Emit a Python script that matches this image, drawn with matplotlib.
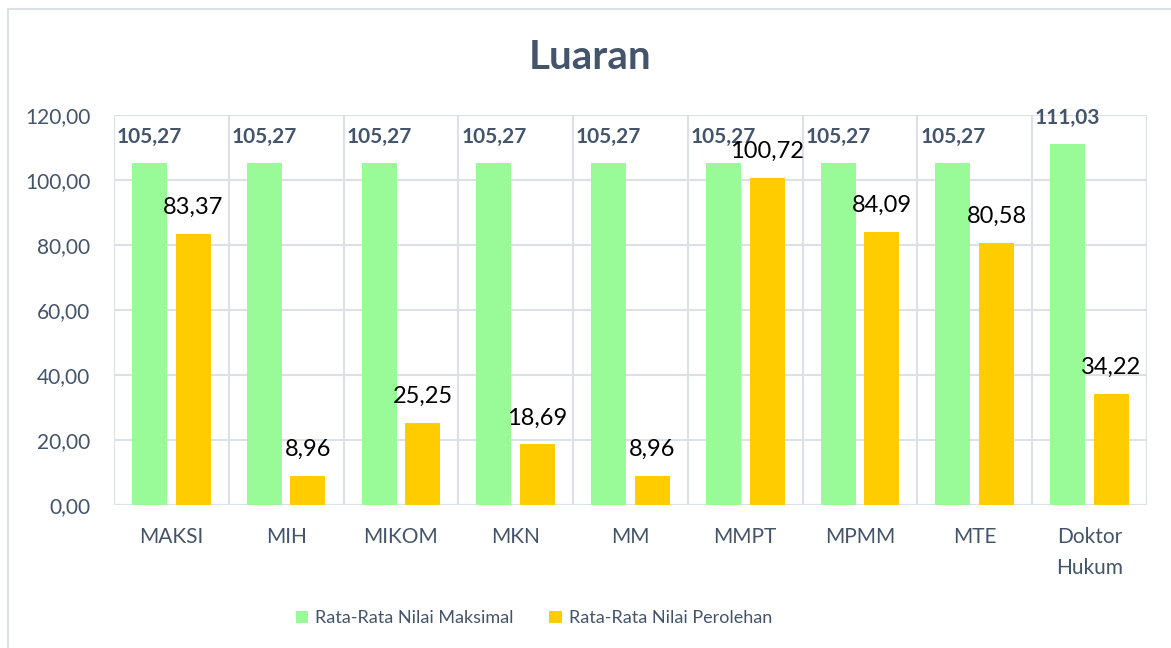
import matplotlib.pyplot as plt
import matplotlib.patches as mpatches
import numpy as np

plt.rcParams['font.family'] = ['Lato', 'DejaVu Sans']

categories = ['MAKSI', 'MIH', 'MIKOM', 'MKN', 'MM', 'MMPT', 'MPMM', 'MTE', 'Doktor\nHukum']
nilai_maksimal = [105.27, 105.27, 105.27, 105.27, 105.27, 105.27, 105.27, 105.27, 111.03]
nilai_perolehan = [83.37, 8.96, 25.25, 18.69, 8.96, 100.72, 84.09, 80.58, 34.22]
yticks = [0, 20, 40, 60, 80, 100, 120]

text_col = '#44546A'
grid_col = '#DCE1E8'
green = '#98FB98'
gold = '#FFCC00'


def fmt(v):
    return f'{v:.2f}'.replace('.', ',')


fig = plt.figure(figsize=(11.71, 6.48), dpi=100)
# thin outer frame around the chart
fig.patches.append(mpatches.Rectangle((0.0065, -0.05), 1.1, 1.036, transform=fig.transFigure,
                                      fill=False, edgecolor=grid_col, linewidth=1.5))

ax = fig.add_axes([0.0974, 0.2207, 0.882, 0.6018])
x = np.arange(len(categories))
w = 0.305
off = 0.19

b1 = ax.bar(x - off, nilai_maksimal, w, color=green, label='Rata-Rata Nilai Maksimal', zorder=3)
b2 = ax.bar(x + off, nilai_perolehan, w, color=gold, label='Rata-Rata Nilai Perolehan', zorder=3)

for rect, v in zip(b1, nilai_maksimal):
    ax.annotate(fmt(v), (rect.get_x() + rect.get_width() / 2, v), xytext=(0, 19),
                textcoords='offset points', ha='center', va='center',
                fontsize=15, fontweight='bold', color=text_col, zorder=4)
for rect, v in zip(b2, nilai_perolehan):
    ax.annotate(fmt(v), (rect.get_x() + rect.get_width() / 2, v), xytext=(0, 19),
                textcoords='offset points', ha='center', va='center',
                fontsize=17, color='black', zorder=5)

ax.set_xlim(-0.5, len(categories) - 0.5)
ax.set_ylim(0, 120)
ax.set_yticks(yticks)
ax.set_yticklabels([fmt(t) for t in yticks], fontsize=15, color=text_col)
ax.set_xticks(x)
ax.set_xticklabels(categories, fontsize=15, color=text_col, linespacing=1.65)
ax.tick_params(length=0)
ax.tick_params(axis='y', pad=17)
ax.tick_params(axis='x', pad=16)

# horizontal and category-separator grid lines
ax.yaxis.grid(True, color=grid_col, linewidth=1.5, zorder=0)
for b in np.arange(-0.5, len(categories), 1.0):
    ax.axvline(b, color=grid_col, linewidth=1.5, zorder=0)
for s in ax.spines.values():
    s.set_visible(False)
ax.axhline(0, color=grid_col, linewidth=1.5, zorder=2)

fig.text(0.504, 0.912, 'Luaran', ha='center', va='center', fontsize=29,
         fontweight='bold', color=text_col)

fig.legend(handles=[b1, b2], loc='center', bbox_to_anchor=(0.456, 0.046), ncol=2,
           frameon=False, fontsize=13, labelcolor=text_col, handlelength=0.7,
           handleheight=0.7, handletextpad=0.4, columnspacing=1.95)

fig.savefig('out.png', dpi=100)
